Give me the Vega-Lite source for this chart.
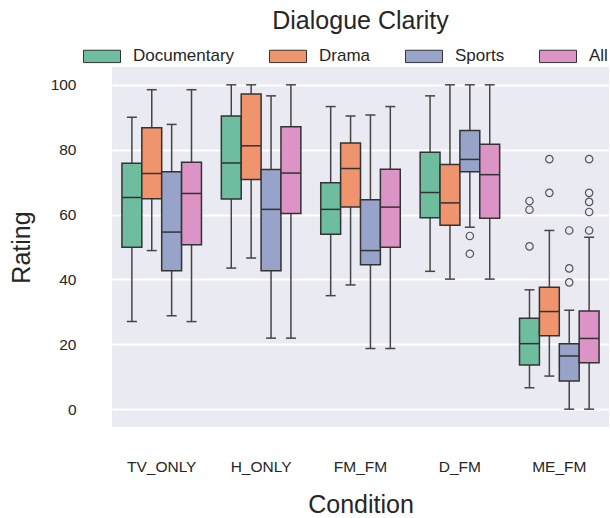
{
  "$schema": "https://vega.github.io/schema/vega-lite/v6.json",
  "width": 497,
  "height": 360,
  "autosize": {"type": "none"},
  "padding": {"left": 112, "top": 67, "right": 1, "bottom": 91},
  "background": "white",
  "title": {"text": "Dialogue Clarity", "fontSize": 25, "font": "Liberation Sans", "fontWeight": "normal", "color": "#262626", "offset": 9},
  "datasets": {
    "boxes": [
      {"condition": "TV_ONLY", "genre": "Documentary", "lower": 27.0, "q1": 49.9, "median": 65.3, "q3": 75.8, "upper": 90.0},
      {"condition": "TV_ONLY", "genre": "Drama", "lower": 48.9, "q1": 64.9, "median": 72.7, "q3": 86.8, "upper": 98.5},
      {"condition": "TV_ONLY", "genre": "Sports", "lower": 28.8, "q1": 42.7, "median": 54.6, "q3": 73.2, "upper": 87.8},
      {"condition": "TV_ONLY", "genre": "All", "lower": 27.0, "q1": 50.7, "median": 66.5, "q3": 76.1, "upper": 98.5},
      {"condition": "H_ONLY", "genre": "Documentary", "lower": 43.5, "q1": 64.8, "median": 75.9, "q3": 90.4, "upper": 100},
      {"condition": "H_ONLY", "genre": "Drama", "lower": 46.6, "q1": 70.8, "median": 81.2, "q3": 97.2, "upper": 100},
      {"condition": "H_ONLY", "genre": "Sports", "lower": 21.9, "q1": 42.7, "median": 61.6, "q3": 73.9, "upper": 96.6},
      {"condition": "H_ONLY", "genre": "All", "lower": 21.9, "q1": 60.3, "median": 72.8, "q3": 87.1, "upper": 100},
      {"condition": "FM_FM", "genre": "Documentary", "lower": 35.0, "q1": 53.9, "median": 61.6, "q3": 69.8, "upper": 93.3},
      {"condition": "FM_FM", "genre": "Drama", "lower": 38.3, "q1": 62.3, "median": 74.2, "q3": 82.1, "upper": 90.4},
      {"condition": "FM_FM", "genre": "Sports", "lower": 18.7, "q1": 44.5, "median": 48.9, "q3": 64.6, "upper": 90.7},
      {"condition": "FM_FM", "genre": "All", "lower": 18.7, "q1": 49.9, "median": 62.3, "q3": 74.0, "upper": 93.3},
      {"condition": "D_FM", "genre": "Documentary", "lower": 42.5, "q1": 59.0, "median": 66.8, "q3": 79.2, "upper": 96.6},
      {"condition": "D_FM", "genre": "Drama", "lower": 40.1, "q1": 56.7, "median": 63.6, "q3": 75.4, "upper": 100},
      {"condition": "D_FM", "genre": "Sports", "lower": 56.1, "q1": 73.2, "median": 77.0, "q3": 85.9, "upper": 100},
      {"condition": "D_FM", "genre": "All", "lower": 40.1, "q1": 58.9, "median": 72.3, "q3": 81.7, "upper": 100},
      {"condition": "ME_FM", "genre": "Documentary", "lower": 6.6, "q1": 13.6, "median": 20.2, "q3": 28.0, "upper": 36.8},
      {"condition": "ME_FM", "genre": "Drama", "lower": 10.2, "q1": 22.6, "median": 30.1, "q3": 37.6, "upper": 55.1},
      {"condition": "ME_FM", "genre": "Sports", "lower": 0, "q1": 8.7, "median": 16.4, "q3": 20.2, "upper": 30.5},
      {"condition": "ME_FM", "genre": "All", "lower": 0, "q1": 14.3, "median": 21.8, "q3": 30.3, "upper": 53.0}
    ],
    "outliers": [
      {"condition": "D_FM", "genre": "Sports", "value": 53.4},
      {"condition": "D_FM", "genre": "Sports", "value": 47.9},
      {"condition": "ME_FM", "genre": "Documentary", "value": 64.2},
      {"condition": "ME_FM", "genre": "Documentary", "value": 61.5},
      {"condition": "ME_FM", "genre": "Documentary", "value": 50.2},
      {"condition": "ME_FM", "genre": "Drama", "value": 77.1},
      {"condition": "ME_FM", "genre": "Drama", "value": 66.7},
      {"condition": "ME_FM", "genre": "Sports", "value": 55.1},
      {"condition": "ME_FM", "genre": "Sports", "value": 43.4},
      {"condition": "ME_FM", "genre": "Sports", "value": 39.1},
      {"condition": "ME_FM", "genre": "All", "value": 77.1},
      {"condition": "ME_FM", "genre": "All", "value": 66.7},
      {"condition": "ME_FM", "genre": "All", "value": 63.9},
      {"condition": "ME_FM", "genre": "All", "value": 60.8},
      {"condition": "ME_FM", "genre": "All", "value": 55.1}
    ]
  },
  "encoding": {
    "x": {
      "field": "condition", "type": "nominal",
      "sort": ["TV_ONLY", "H_ONLY", "FM_FM", "D_FM", "ME_FM"],
      "scale": {"paddingInner": 0.2, "paddingOuter": 0.1},
      "axis": {"title": "Condition", "labelAngle": 0, "labelPadding": 32, "titlePadding": 18, "grid": false}
    },
    "xOffset": {
      "field": "genre", "type": "nominal",
      "sort": ["Documentary", "Drama", "Sports", "All"],
      "scale": {"paddingInner": 0, "paddingOuter": 0}
    }
  },
  "layer": [
    {
      "data": {"name": "boxes"},
      "mark": {"type": "rule", "color": "#454545", "strokeWidth": 1.5},
      "encoding": {
        "y": {"field": "lower", "type": "quantitative", "scale": {"domain": [-5.5, 105.5], "nice": false, "zero": false},
              "axis": {"title": "Rating", "values": [0, 20, 40, 60, 80, 100], "labelPadding": 36, "titlePadding": 16}},
        "y2": {"field": "upper"}
      }
    },
    {
      "data": {"name": "boxes"},
      "mark": {"type": "tick", "color": "#454545", "size": 10, "thickness": 1.5, "opacity": 1},
      "encoding": {"y": {"field": "lower", "type": "quantitative"}}
    },
    {
      "data": {"name": "boxes"},
      "mark": {"type": "tick", "color": "#454545", "size": 10, "thickness": 1.5, "opacity": 1},
      "encoding": {"y": {"field": "upper", "type": "quantitative"}}
    },
    {
      "data": {"name": "boxes"},
      "mark": {"type": "bar", "stroke": "#333333", "strokeWidth": 1.5, "opacity": 1},
      "encoding": {
        "y": {"field": "q1", "type": "quantitative"},
        "y2": {"field": "q3"},
        "color": {
          "field": "genre", "type": "nominal",
          "scale": {"domain": ["Documentary", "Drama", "Sports", "All"], "range": ["#6ebd9f", "#ef946c", "#97a3c8", "#dc94c6"]},
          "legend": {
            "title": null, "orient": "none", "direction": "horizontal", "legendX": -23, "legendY": -24,
            "symbolType": "M-1.5,-0.5H1.5V0.5H-1.5Z", "symbolSize": 609, "symbolStrokeColor": "#333333", "symbolStrokeWidth": 1,
            "symbolOpacity": 1, "labelOffset": 18, "columnPadding": 32, "labelFontSize": 17, "labelFont": "Liberation Sans", "labelColor": "#262626"
          }
        }
      }
    },
    {
      "data": {"name": "boxes"},
      "mark": {"type": "tick", "color": "#333333", "size": 19.5, "thickness": 1.5, "opacity": 1},
      "encoding": {"y": {"field": "median", "type": "quantitative"}}
    },
    {
      "data": {"name": "outliers"},
      "mark": {"type": "point", "shape": "circle", "filled": false, "stroke": "#555555", "strokeWidth": 1.2, "size": 55, "opacity": 1},
      "encoding": {"y": {"field": "value", "type": "quantitative"}}
    }
  ],
  "config": {
    "view": {"fill": "#eaeaf2", "stroke": null},
    "font": "Liberation Sans",
    "axis": {
      "domain": false, "ticks": false, "tickSize": 0,
      "labelFontSize": 15.5, "labelColor": "#262626", "labelFont": "Liberation Sans",
      "titleFontSize": 25, "titleFontWeight": "normal", "titleColor": "#262626", "titleFont": "Liberation Sans",
      "gridColor": "white", "gridWidth": 2
    }
  }
}
